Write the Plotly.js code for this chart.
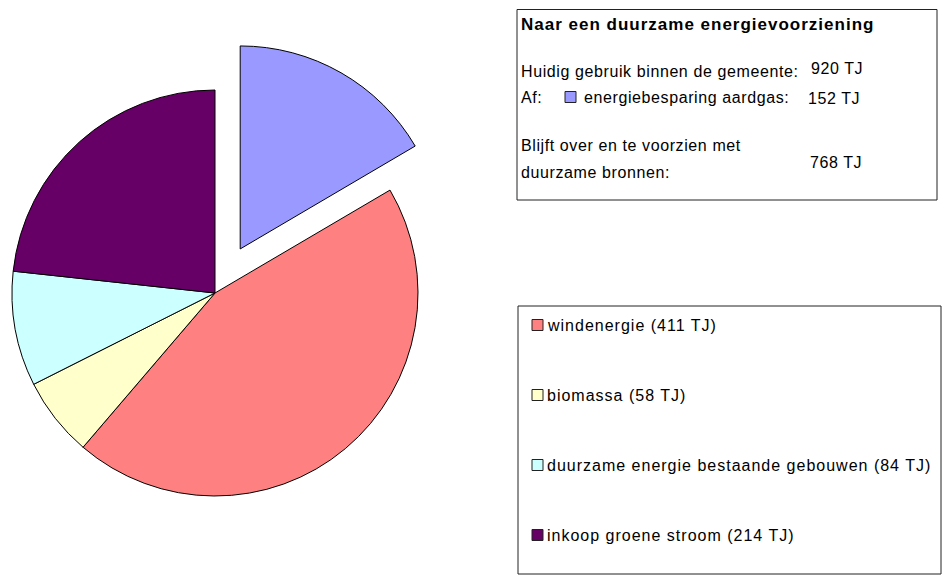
<!DOCTYPE html>
<html>
<head>
<meta charset="utf-8">
<script src="https://cdn.plot.ly/plotly-3.0.1.min.js"></script>
<style>
    html, body { margin: 0; padding: 0; overflow: hidden; background: #fff; }
    #wrap { position: relative; width: 944px; height: 579px; overflow: hidden; }
    /* plot is shifted left so the pie (with its pulled slice) can sit near the edge */
    #myDiv { position: absolute; left: -60px; top: 0; width: 1004px; height: 579px; }
</style>
</head>
<body>
<div id="wrap"><div id="myDiv"></div></div>
<script>
// 데이터
var sliceNames = ['energiebesparing aardgas', 'windenergie', 'biomassa',
                  'duurzame energie bestaande gebouwen', 'inkoop groene stroom'];
var sliceValues = [152, 411, 58, 84, 214];
var sliceColors = ['#9999FF', '#FF8080', '#FFFFCC', '#CCFFFF', '#660066'];
var slicePull = [0.25, 0, 0, 0, 0];

var totalUse = 920;      // huidig gebruik
var saving = 152;        // energiebesparing aardgas
var remaining = 768;     // blijft over

// 화면 픽셀 -> paper 좌표 (div 가 60px 왼쪽으로 밀려 있음)
var SHIFT = 60, W = 1004, H = 579;
function px(x) { return (x + SHIFT) / W; }
function py(y) { return 1 - y / H; }

var family = 'Arial, "Liberation Sans", sans-serif';

var shapes = [];
var annotations = [];

// spacing 은 span style 로 (plotly 가 폭을 같이 잰다)
function addText(text, x, y, size, spacing) {
    annotations.push({
        text: '<span style="letter-spacing:' + spacing + 'px">' + text + '</span>',
        xref: 'paper', yref: 'paper', x: px(x), y: py(y),
        xanchor: 'left', yanchor: 'middle', showarrow: false,
        font: { family: family, size: size, color: '#000' }
    });
}

function addSquare(cx, cy, color) {
    shapes.push({
        type: 'rect', xref: 'paper', yref: 'paper',
        x0: px(cx - 5.5), x1: px(cx + 5.5), y0: py(cy + 5.5), y1: py(cy - 5.5),
        fillcolor: color, line: { color: '#222', width: 1 }
    });
}

// 상단 정보 상자
shapes.push({
    type: 'rect', xref: 'paper', yref: 'paper',
    x0: px(517), x1: px(937), y0: py(200), y1: py(9.5),
    line: { color: '#222', width: 1 }, fillcolor: 'rgba(0,0,0,0)'
});
addText('<b>Naar een duurzame energievoorziening</b>', 519, 24, 17, 1);
addText('Huidig gebruik binnen de gemeente:', 519, 71, 16, 0.6);
addText(totalUse + ' TJ', 809, 68, 16, 0.6);
addText('Af:', 519, 97, 16, 0.6);
addSquare(570.5, 97, sliceColors[0]);
addText(sliceNames[0] + ':', 582, 97, 16, 0.6);
addText(saving + ' TJ', 806, 99, 16, 0.6);
addText('Blijft over en te voorzien met', 519, 146, 16, 0.6);
addText('duurzame bronnen:', 519, 172, 16, 0.6);
addText(remaining + ' TJ', 808, 162, 16, 0.6);

// 범례 상자
shapes.push({
    type: 'rect', xref: 'paper', yref: 'paper',
    x0: px(518), x1: px(941), y0: py(574), y1: py(306),
    line: { color: '#222', width: 1 }, fillcolor: 'rgba(0,0,0,0)'
});
for (var i = 1; i < sliceNames.length; i++) {
    var yy = 325 + (i - 1) * 70;
    addSquare(537.5, yy, sliceColors[i]);
    addText(sliceNames[i] + ' (' + sliceValues[i] + ' TJ)', 545, yy, 16, 1);
}

var data = [{
    type: 'pie',
    values: sliceValues,
    labels: sliceNames,
    sort: false,
    direction: 'clockwise',
    rotation: 0,
    pull: slicePull,
    textinfo: 'none',
    hoverinfo: 'label+value',
    marker: { colors: sliceColors, line: { color: '#000', width: 1 } },
    domain: { x: [px(215 - 253.75), px(215 + 253.75)], y: [py(293 + 253.75), py(293 - 253.75)] },
    showlegend: false
}];

var layout = {
    width: W,
    height: H,
    margin: { l: 0, r: 0, t: 0, b: 0 },
    paper_bgcolor: '#fff',
    showlegend: false,
    shapes: shapes,
    annotations: annotations
};

var config = { displayModeBar: false, staticPlot: true };

Plotly.newPlot('myDiv', data, layout, config);
</script>
</body>
</html>
